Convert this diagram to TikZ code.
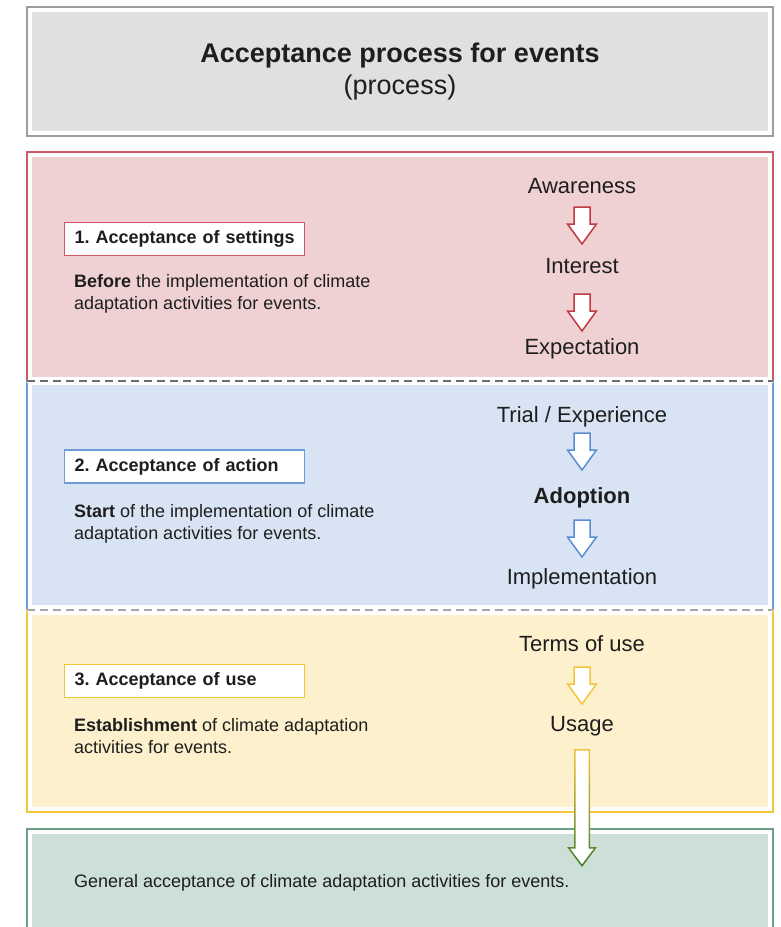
\documentclass[tikz,border=0pt]{standalone}
\usepackage{fontspec}
\setmainfont{Liberation Sans}
\frenchspacing

\definecolor{txt}{HTML}{1E1E1E}
\definecolor{headfill}{HTML}{E0E0E0}
\definecolor{headline}{HTML}{9E9E9E}
\definecolor{redfill}{HTML}{EFD1D3}
\definecolor{redline}{HTML}{CB5A62}
\definecolor{redarr}{HTML}{C23A40}
\definecolor{bluefill}{HTML}{D8E4F3}
\definecolor{blueline}{HTML}{6F9DDA}
\definecolor{bluearr}{HTML}{5B8CD2}
\definecolor{yelfill}{HTML}{FDF0CC}
\definecolor{yelline}{HTML}{F3C53A}
\definecolor{grnfill}{HTML}{CDE0D7}
\definecolor{grnline}{HTML}{6BA084}
\definecolor{grnarr}{HTML}{3A7A28}
\definecolor{dashdark}{HTML}{6E6E6E}
\definecolor{dashlight}{HTML}{A8A8A8}

\tikzset{
  section/.style={draw, line width=1.5pt, fill=white},
  tag/.style={draw, line width=1.4pt, fill=white, anchor=west, text width=220pt,
    inner xsep=10pt, inner ysep=6pt, minimum height=33pt, align=left,
    font=\bfseries\fontsize{18}{21}\selectfont},
  stage/.style={anchor=base, font=\fontsize{22}{26}\selectfont},
  desc/.style={anchor=north west, align=left, inner sep=0pt},
  separator/.style={line width=1.5pt, dash pattern=on 8pt off 5pt},
  downarr/.pic={
    \path[pic actions] (-8,0) -- (8,0) -- (8,17) -- (14.5,17) -- (0,37)
      -- (-14.5,17) -- (-8,17) -- cycle;
  }
}

\begin{document}
\begin{tikzpicture}[x=1pt, y=-1pt, text=txt, font=\fontsize{18}{22}\selectfont]

    \useasboundingbox (0,0) rectangle (780,927);
    \clip (0,0) rectangle (780,927);

    % boxes
    \draw[section, draw=headline] (27,7) rectangle (773,136);
    \fill[headfill] (32,12) rectangle (768,131);

    \draw[section, draw=redline] (27,152) rectangle (773,381);
    \fill[redfill] (32,157) rectangle (768,377);
    \draw[section, draw=blueline] (27,381) rectangle (773,610);
    \fill[bluefill] (32,385) rectangle (768,605);
    \draw[section, draw=yelline] (27,610) rectangle (773,812);
    \fill[yelfill] (32,615) rectangle (768,807);
    \draw[section, draw=grnline] (27,829) rectangle (773,940);
    \fill[grnfill] (32,834) rectangle (768,940);

    \draw[white, line width=3pt] (27,381) -- (773,381);
    \draw[separator, dashdark] (27,381) -- (773,381);
    \draw[white, line width=3pt] (27,610) -- (773,610);
    \draw[separator, dashlight] (27,610) -- (773,610);

    % title
    \node (title) [anchor=base, font=\bfseries\fontsize{27}{30}\selectfont] at (400,62) {Acceptance process for events};
    \node (sub) [anchor=base, font=\fontsize{27}{30}\selectfont] at (400,94) {(process)};

    % 1. settings
    \node (tag1) [tag, draw=redline] at (64,239) {\mbox{1. Acceptance of settings}};
    \node (desc1) [desc] at (74,274) {\textbf{Before} the implementation of climate\\adaptation activities for events.};
    \node (aw) [stage] at (582,193) {Awareness};
    \node (int) [stage] at (582,273) {Interest};
    \node (exp) [stage] at (582,354) {Expectation};
    \pic[draw=redarr, fill=white, line width=1.5pt] at (582,207) {downarr};
    \pic[draw=redarr, fill=white, line width=1.5pt] at (582,294) {downarr};

    % 2. action
    \node (tag2) [tag, draw=blueline] at (64,466.5) {\mbox{2. Acceptance of action}};
    \node (desc2) [desc] at (74,504) {\textbf{Start} of the implementation of climate\\adaptation activities for events.};
    \node (trial) [stage] at (582,422) {Trial / Experience};
    \node (adop) [stage, font=\bfseries\fontsize{22}{26}\selectfont] at (582,503) {Adoption};
    \node (impl) [stage] at (582,584) {Implementation};
    \pic[draw=bluearr, fill=white, line width=1.5pt] at (582,433) {downarr};
    \pic[draw=bluearr, fill=white, line width=1.5pt] at (582,520) {downarr};

    % 3. use
    \node (tag3) [tag, draw=yelline] at (64,681) {\mbox{3. Acceptance of use}};
    \node (desc3) [desc] at (74,718) {\textbf{Establishment} of climate adaptation\\activities for events.};
    \node (terms) [stage] at (582,651) {Terms of use};
    \node (usage) [stage] at (582,731) {Usage};
    \pic[draw=yelline, fill=white, line width=1.5pt] at (582,667) {downarr};

    % general acceptance
    \node (gen) [anchor=base west, inner sep=0pt] at (74,887) {General acceptance of climate adaptation activities for events.};

    % long arrow usage -> general
    \fill[white] (574,749) -- (590,749) -- (590,847) -- (597,847) -- (582,867) -- (567,847) -- (574,847) -- cycle;
    \shade[top color=yelline, bottom color=grnarr, middle color=yelline!55!grnarr, even odd rule]
      (574,749) -- (590,749) -- (590,847) -- (597,847) -- (582,867) -- (567,847) -- (574,847) -- cycle
      (575.5,750.5) -- (588.5,750.5) -- (588.5,848.5) -- (594,848.5) -- (582,864.5) -- (570,848.5) -- (575.5,848.5) -- cycle;

\end{tikzpicture}
\end{document}
